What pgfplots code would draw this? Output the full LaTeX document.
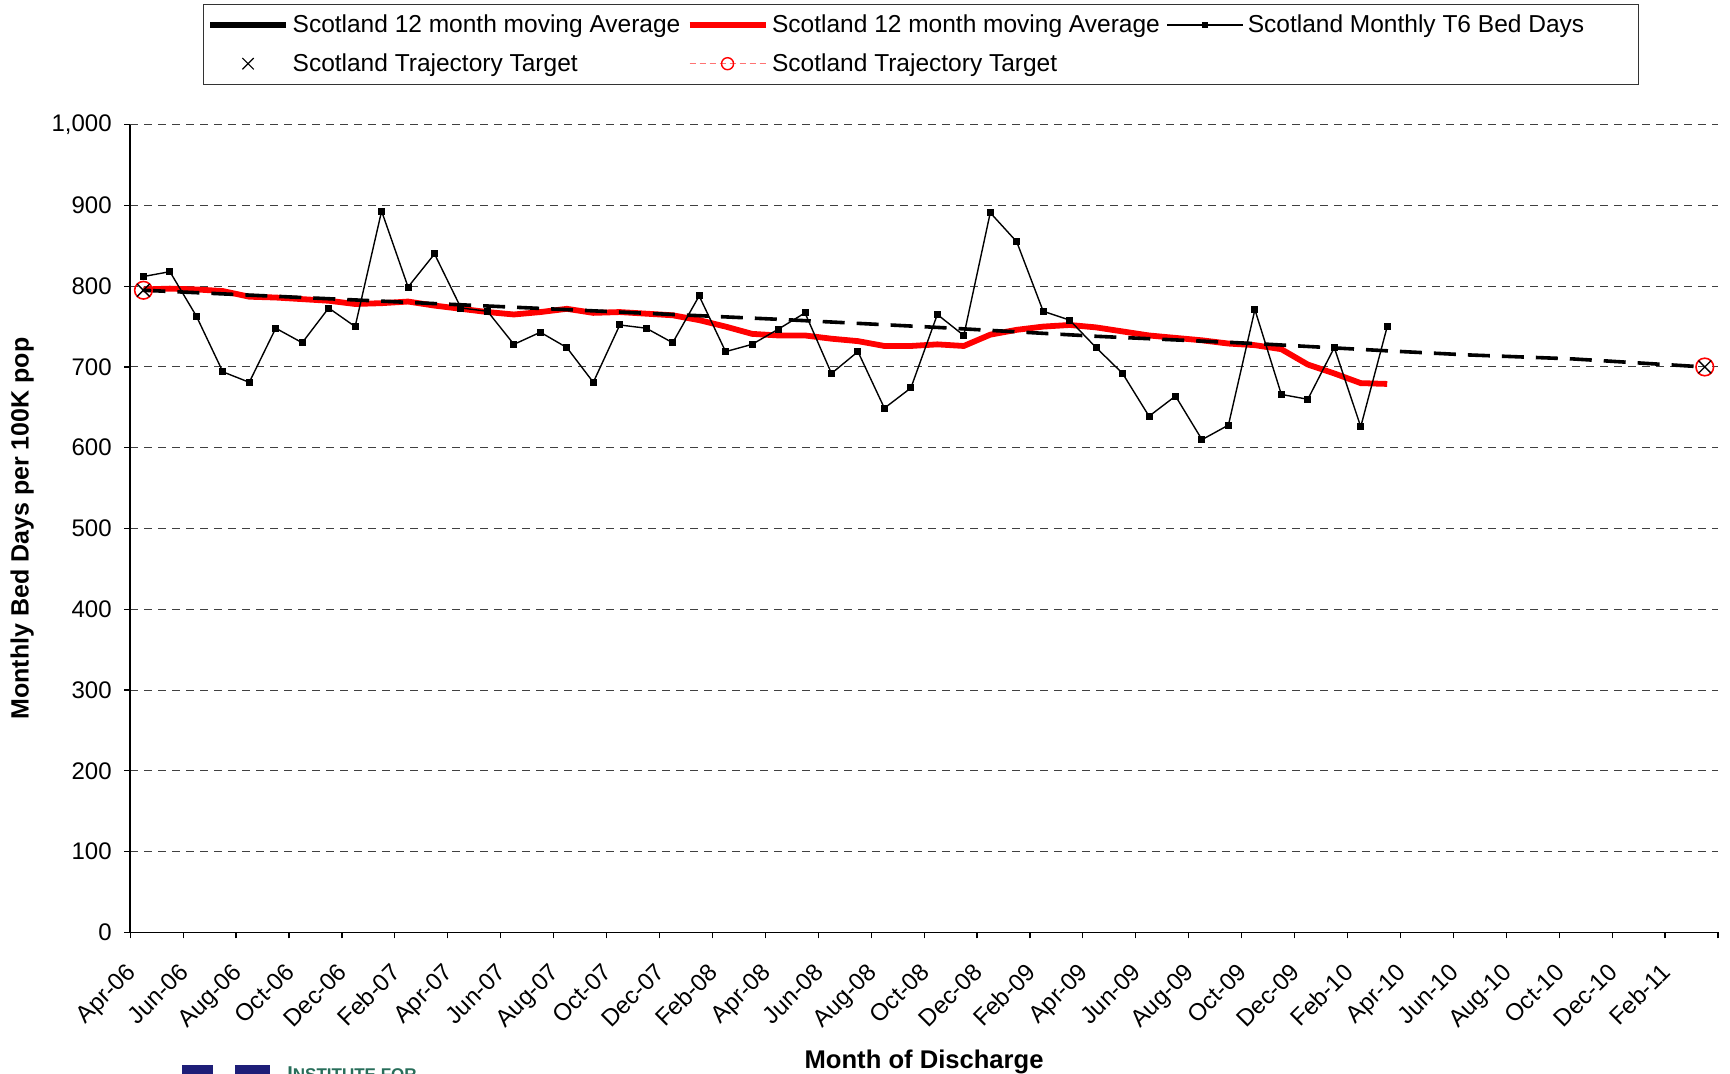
\documentclass[border=0pt]{standalone}
\usepackage{pgfplots}
\pgfplotsset{compat=1.18}
\usepackage{pgfplotstable}
\usepackage{fontspec}
\setmainfont{Liberation Sans}
\definecolor{logoblue}{RGB}{30,30,120}
\definecolor{logogreen}{RGB}{40,110,90}

\pgfplotstableread{
x y
0 812
1 818
2 763
3 694
4 681
5 748
6 730
7 773
8 750
9 893
10 799
11 840
12 773
13 769
14 728
15 743
16 724
17 681
18 752
19 748
20 730
21 788
22 719
23 728
24 747
25 767
26 692
27 719
28 649
29 674
30 765
31 739
32 891
33 855
34 769
35 758
36 724
37 692
38 639
39 664
40 610
41 628
42 771
43 666
44 660
45 724
46 626
47 750
}\monthly

\pgfplotstableread{
x y
0 796
1 797
2 796
3 794
4 787
5 786
6 784
7 782
8 778
9 779
10 781
11 776
12 772
13 768
14 765
15 768
16 772
17 767
18 768
19 766
20 764
21 758
22 750
23 741
24 739
25 739
26 735
27 732
28 726
29 726
30 728
31 726
32 740
33 746
34 750
35 752
36 749
37 744
38 739
39 736
40 733
41 729
42 727
43 722
44 703
45 692
46 680
47 679
}\redavg

\pgfplotstableread{
x y
0 795
6 786
12 777
18 768
24 759
30 749
36 738
42 729
47 720
50 715
54 710
57 704
59 700
}\trajectory

\pgfplotstableread{
x y
0 795
59 700
}\target

\begin{document}
\begin{tikzpicture}
\useasboundingbox (0,0) rectangle (865bp,537bp);
% partial logo at the bottom edge
\fill[logoblue] (91bp,-2bp) rectangle (106.5bp,4.5bp);
\fill[logoblue] (117.5bp,-2bp) rectangle (135bp,4.5bp);
\node[anchor=north west, inner sep=0pt, text=logogreen, font=\fontsize{10bp}{12bp}\selectfont\bfseries] at (143.5bp,4bp) {I\fontsize{8.5bp}{10bp}\selectfont NSTITUTE FOR};
\begin{axis}[
  at={(65.1bp,70.85bp)}, anchor=south west,
  scale only axis, width=793.9bp, height=403.8bp,
  xmin=-0.5, xmax=59.5, ymin=0, ymax=1000,
  axis x line*=bottom, axis y line*=left,
  axis line style={line width=0.8bp, -},
  tick align=outside,
  major tick length=3bp,
  tick style={black, line width=0.6bp},
  xtick={-0.5,1.5,...,59.5},
  xticklabels={},
  extra x ticks={0,2,...,58},
  extra x tick labels={Apr-06,Jun-06,Aug-06,Oct-06,Dec-06,Feb-07,Apr-07,Jun-07,Aug-07,Oct-07,Dec-07,Feb-08,Apr-08,Jun-08,Aug-08,Oct-08,Dec-08,Feb-09,Apr-09,Jun-09,Aug-09,Oct-09,Dec-09,Feb-10,Apr-10,Jun-10,Aug-10,Oct-10,Dec-10,Feb-11},
  extra x tick style={major tick length=0pt},
  xticklabel style={xshift=-9.3bp, yshift=-13.1bp, rotate=45, anchor=north east, font=\fontsize{12bp}{14bp}\selectfont, inner sep=1bp},
  ytick={0,100,...,1000},
  yticklabels={0,100,200,300,400,500,600,700,800,900,{1,000}},
  yticklabel style={font=\fontsize{12bp}{14bp}\selectfont, xshift=-2.75bp},
  ymajorgrids,
  major grid style={black!75, line width=0.5bp, dash pattern=on 4bp off 3bp},
  xlabel={Month of Discharge},
  ylabel={Monthly Bed Days per 100K pop},
  every axis x label/.style={at={(axis description cs:0.5,-0.16)}, anchor=center, font=\fontsize{12.8bp}{15bp}\selectfont\bfseries},
  every axis y label/.style={at={(axis description cs:-0.068,0.5)}, rotate=90, anchor=center, font=\fontsize{12.5bp}{15bp}\selectfont\bfseries},
  legend columns=3,
  legend cell align=left,
  legend image code/.code={\draw[mark repeat=2,mark phase=2,#1] plot coordinates {(0bp,0bp)(19bp,0bp)(38bp,0bp)};},
  legend style={at={(0.0459,1.1494)}, anchor=north west, draw=black!80,
    font=\fontsize{12.25bp}{14bp}\selectfont, inner xsep=2bp, inner ysep=3.1bp,
    row sep=5bp,
    /tikz/every even column/.append style={column sep=1.3bp}},
]
\addplot[red, line width=2.9bp, forget plot] table[x=x, y=y] {\redavg};
\addplot[black, line width=1.8bp, dash pattern=on 11bp off 6bp, forget plot] table[x=x, y=y] {\trajectory};
\addplot[black, line width=0.7bp, mark=square*, mark size=1.4bp, forget plot] table[x=x, y=y] {\monthly};
\addplot[only marks, mark=o, red, mark size=4.4bp, line width=0.8bp, forget plot] table[x=x, y=y] {\target};
\addplot[only marks, mark=x, black, mark size=4.5bp, line width=0.7bp, forget plot] table[x=x, y=y] {\target};

\addlegendimage{black, line width=2.6bp}
\addlegendentry{Scotland 12 month moving Average}
\addlegendimage{red, line width=2.6bp}
\addlegendentry{Scotland 12 month moving Average}
\addlegendimage{black, line width=0.7bp, mark=square*, mark size=1.3bp}
\addlegendentry{Scotland Monthly T6 Bed Days\hspace*{23bp}}
\addlegendimage{only marks, mark=x, mark size=4bp, black, line width=0.6bp}
\addlegendentry{Scotland Trajectory Target}
\addlegendimage{red!55, dash pattern=on 3bp off 2bp, line width=0.7bp, mark=o, mark size=3bp, mark options={red, solid}}
\addlegendentry{Scotland Trajectory Target}
\end{axis}
\end{tikzpicture}
\end{document}
